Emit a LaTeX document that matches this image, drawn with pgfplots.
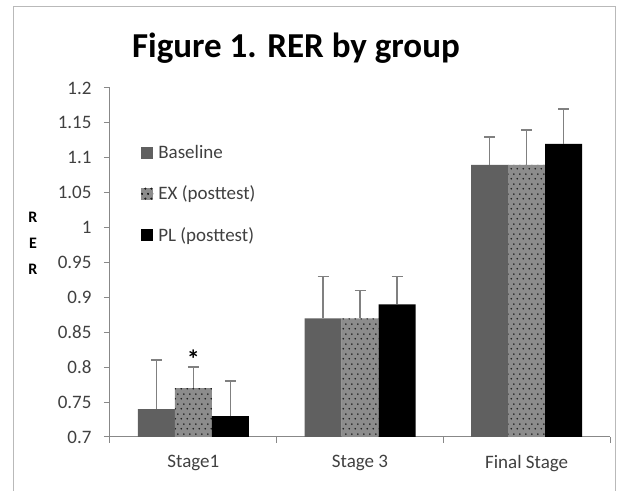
\documentclass[border=0pt]{standalone}
\usepackage{fontspec}
\setmainfont{Carlito}
\usepackage{pgfplots}
\pgfplotsset{compat=1.18}
\usetikzlibrary{patterns}

\definecolor{basegray}{HTML}{606060}
\definecolor{exgray}{HTML}{8C8C8C}
\definecolor{axgray}{HTML}{888888}
\definecolor{txtgray}{HTML}{404040}
\definecolor{errgray}{HTML}{808080}

% staggered dots for the EX bars
\pgfdeclarepatternformonly{stipple}{\pgfpointorigin}{\pgfpoint{6bp}{10bp}}{\pgfpoint{6bp}{10bp}}{%
  \pgfpathcircle{\pgfpoint{1.5bp}{2.5bp}}{1bp}%
  \pgfpathcircle{\pgfpoint{4.5bp}{7.5bp}}{1bp}%
  \pgfusepath{fill}}

\begin{document}
\begin{tikzpicture}[x=1bp,y=1bp]
\useasboundingbox (-110,-54) rectangle (508,437);
\draw[gray!55, line width=1bp] (-96,-70) -- (-96,430) -- (505,430) -- (505,-70);

\node[font=\fontsize{35bp}{42bp}\selectfont\bfseries, anchor=base] at (186,379) {Figure 1. RER by group};
\node[font=\fontsize{16bp}{26bp}\selectfont\bfseries, align=center] at (-77,194) {R\\E\\R};

\begin{axis}[
    at={(0,0)}, anchor=south west,
    scale only axis, width=500bp, height=349bp,
    xmin=-0.5, xmax=2.5, ymin=0.7, ymax=1.2,
    axis x line*=bottom, axis y line*=left,
    axis line style={-, axgray, line width=1bp},
    every tick/.style={axgray, line width=1bp},
    tick align=outside,
    major tick length=6bp, minor tick length=6bp,
    ytick={0.7,0.75,0.8,0.85,0.9,0.95,1,1.05,1.1,1.15,1.2},
    yticklabel style={/pgf/number format/fixed, /pgf/number format/precision=2, xshift=-9bp},
    xticklabel style={yshift=-9bp},
    xtick={0,1,2},
    xticklabels={Stage1, Stage 3, Final Stage},
    major x tick style={draw=none},
    minor xtick={-0.5,0.5,1.5,2.5},
    /pgf/number format/assume math mode=true,
    tick label style={font=\fontsize{19bp}{22bp}\selectfont, text=txtgray},
    ybar=0pt, bar width=37bp,
    legend style={at={(rel axis cs:0.062,0.842)}, anchor=north west, draw=none,
      fill=none, font=\fontsize{19bp}{22bp}\selectfont, text=txtgray,
      row sep=22bp, inner sep=0pt, nodes={inner sep=2bp}},
    legend cell align=left,
    error bars/y dir=plus, error bars/y explicit,
    error bars/error bar style={errgray, line width=1.6bp},
    error bars/error mark options={rotate=90, errgray, mark size=5.5bp, line width=1.6bp},
  ]
  \addplot[fill=basegray, draw=none,
    legend image code/.code={\fill[basegray] (0bp,-6bp) rectangle (12bp,6bp);}]
    coordinates {(0,0.74) +- (0,0.07) (1,0.87) +- (0,0.06) (2,1.09) +- (0,0.04)};
  \addplot[fill=exgray, draw=none, postaction={pattern=stipple, pattern color=black!90},
    legend image code/.code={\fill[exgray] (0bp,-6bp) rectangle (12bp,6bp);
      \fill[pattern=stipple, pattern color=black!90] (0bp,-6bp) rectangle (12bp,6bp);}]
    coordinates {(0,0.77) +- (0,0.03) (1,0.87) +- (0,0.04) (2,1.09) +- (0,0.05)};
  \addplot[fill=black, draw=none,
    legend image code/.code={\fill[black] (0bp,-6bp) rectangle (12bp,6bp);}]
    coordinates {(0,0.73) +- (0,0.05) (1,0.89) +- (0,0.04) (2,1.12) +- (0,0.05)};
  \legend{\,Baseline, \,EX (posttest), \,PL (posttest)}
  \node[font=\fontsize{26bp}{26bp}\selectfont\bfseries] at (axis cs:0,0.812) {*};
\end{axis}
\end{tikzpicture}
\end{document}
